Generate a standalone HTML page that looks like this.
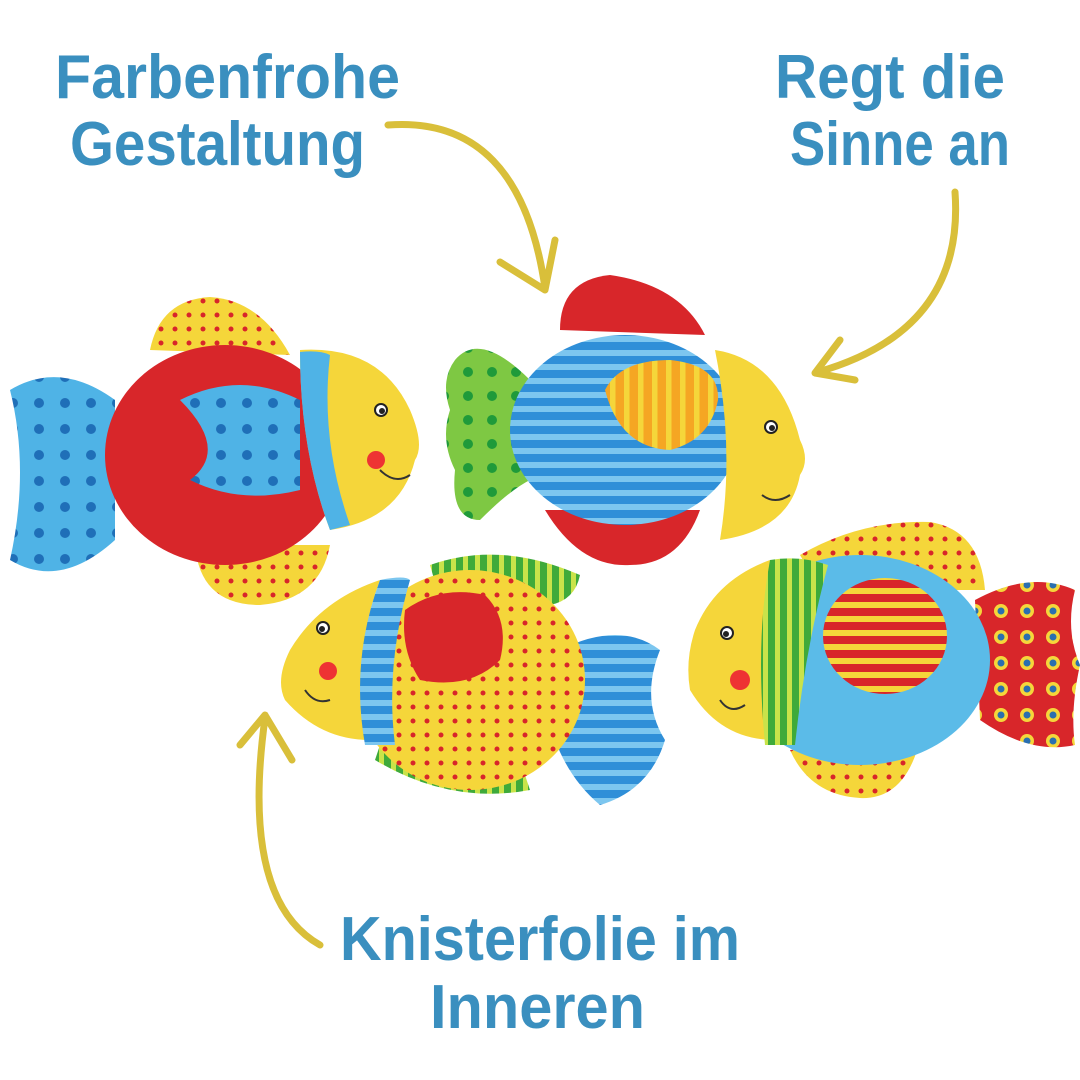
<!DOCTYPE html>
<html><head><meta charset="utf-8"><style>html,body{margin:0;padding:0;background:#fff}svg{display:block}</style></head><body>
<svg width="1080" height="1080" viewBox="0 0 1080 1080" xmlns="http://www.w3.org/2000/svg">
<defs>
<pattern id="dotY" width="14" height="14" patternUnits="userSpaceOnUse"><rect width="14" height="14" fill="#f5d63a"/><circle cx="7" cy="7" r="2.5" fill="#d8262a"/></pattern>
<pattern id="dotB" width="26" height="26" patternUnits="userSpaceOnUse"><rect width="26" height="26" fill="#4fb3e6"/><circle cx="13" cy="13" r="5" fill="#1f6fb8"/></pattern>
<pattern id="dotG" width="24" height="24" patternUnits="userSpaceOnUse"><rect width="24" height="24" fill="#7ec843"/><circle cx="12" cy="12" r="5" fill="#1f9a3a"/></pattern>
<pattern id="dotR" width="26" height="26" patternUnits="userSpaceOnUse"><rect width="26" height="26" fill="#d8262a"/><circle cx="13" cy="13" r="7" fill="#f5d63a"/><circle cx="13" cy="13" r="3.5" fill="#2a6fb0"/></pattern>
<pattern id="strB" width="14" height="14" patternUnits="userSpaceOnUse"><rect width="14" height="14" fill="#2f8fd8"/><rect width="14" height="6" fill="#7cc6ef"/></pattern>
<pattern id="strG" width="12" height="12" patternUnits="userSpaceOnUse" patternTransform="rotate(90)"><rect width="12" height="12" fill="#3faa3a"/><rect width="12" height="5" fill="#c9e34a"/></pattern>
<pattern id="strO" width="14" height="14" patternUnits="userSpaceOnUse" patternTransform="rotate(90)"><rect width="14" height="14" fill="#f5a623"/><rect width="14" height="6" fill="#f5d63a"/></pattern>
<pattern id="strR" width="14" height="14" patternUnits="userSpaceOnUse"><rect width="14" height="14" fill="#d8262a"/><rect width="14" height="6" fill="#f5d63a"/></pattern>
</defs>
<rect width="1080" height="1080" fill="#fff"/>

<!-- Fish 1 -->
<path d="M115 400 Q60 360 10 390 Q30 470 10 560 Q60 590 115 540 Z" fill="url(#dotB)"/>
<path d="M150 350 Q160 300 210 297 Q260 300 290 355 Z" fill="url(#dotY)"/>
<path d="M195 545 L330 545 Q320 600 260 605 Q200 605 195 545 Z" fill="url(#dotY)"/>
<ellipse cx="225" cy="455" rx="120" ry="110" fill="#d8262a"/>
<path d="M300 350 Q380 345 410 410 Q425 445 415 460 Q400 520 330 530 Q300 450 300 350 Z" fill="#f5d63a"/>
<path d="M300 352 Q320 350 330 355 Q320 440 350 525 L330 530 Q300 450 300 352 Z" fill="#4fb3e6"/>
<path d="M180 400 Q240 370 300 400 L300 490 Q240 505 190 480 Q230 450 180 400 Z" fill="url(#dotB)"/>
<circle cx="381" cy="410" r="6" fill="#fff" stroke="#222" stroke-width="2"/><circle cx="382" cy="411" r="3" fill="#222"/>
<circle cx="376" cy="460" r="9" fill="#e33"/>
<path d="M380 470 Q395 485 410 475" stroke="#333" stroke-width="2" fill="none"/>

<!-- Fish 2 -->
<path d="M560 330 Q560 280 610 275 Q680 285 705 335 Z" fill="#d8262a"/>
<path d="M545 510 L700 510 Q680 565 630 565 Q580 568 545 510 Z" fill="#d8262a"/>
<path d="M530 380 Q480 330 455 360 Q440 380 450 410 Q440 440 455 470 Q450 520 480 520 Q510 490 530 480 Z" fill="url(#dotG)"/>
<ellipse cx="625" cy="430" rx="115" ry="95" fill="url(#strB)"/>
<path d="M715 350 Q780 360 800 440 Q810 460 800 475 Q790 530 720 540 Q735 450 715 350 Z" fill="#f5d63a"/>
<path d="M605 390 Q620 360 670 360 Q720 365 718 400 Q710 440 670 450 Q620 448 605 390 Z" fill="url(#strO)"/>
<circle cx="771" cy="427" r="6" fill="#fff" stroke="#222" stroke-width="2"/><circle cx="772" cy="428" r="3" fill="#222"/>
<path d="M762 495 Q775 505 790 495" stroke="#333" stroke-width="2" fill="none"/>

<!-- Fish 3 -->
<path d="M560 650 Q620 620 660 650 Q640 700 665 740 Q650 790 600 805 Q570 780 555 740 Z" fill="url(#strB)"/>
<path d="M430 565 Q500 540 580 575 Q575 600 550 605 L440 600 Z" fill="url(#strG)"/>
<path d="M375 760 Q450 805 530 790 L520 760 L380 745 Z" fill="url(#strG)"/>
<ellipse cx="470" cy="680" rx="115" ry="110" fill="url(#dotY)"/>
<path d="M380 580 Q320 600 290 650 Q275 680 285 700 Q320 740 370 740 Q350 660 380 580 Z" fill="#f5d63a"/>
<path d="M380 580 Q405 575 410 580 Q385 665 395 745 L365 745 Q350 660 380 580 Z" fill="url(#strB)"/>
<path d="M405 610 Q440 585 485 595 Q510 620 500 660 Q470 690 420 680 Q400 650 405 610 Z" fill="#d8262a"/>
<circle cx="323" cy="628" r="6" fill="#fff" stroke="#222" stroke-width="2"/><circle cx="322" cy="629" r="3" fill="#222"/>
<circle cx="328" cy="671" r="9" fill="#e33"/>
<path d="M305 690 Q315 705 330 700" stroke="#333" stroke-width="2" fill="none"/>

<!-- Fish 4 -->
<path d="M975 600 Q1030 570 1075 590 Q1065 630 1080 665 Q1070 710 1075 745 Q1030 755 980 720 Z" fill="url(#dotR)"/>
<path d="M800 555 Q860 520 930 522 Q980 530 985 590 L820 590 Z" fill="url(#dotY)"/>
<path d="M790 750 L920 740 Q905 800 860 798 Q810 795 790 750 Z" fill="url(#dotY)"/>
<ellipse cx="860" cy="660" rx="130" ry="105" fill="#5bbbe8"/>
<path d="M770 560 Q715 580 695 630 Q685 660 690 690 Q720 740 775 740 Q760 640 770 560 Z" fill="#f5d63a"/>
<path d="M770 560 Q800 555 828 565 Q805 650 795 745 L765 745 Q755 640 770 560 Z" fill="url(#strG)"/>
<ellipse cx="885" cy="636" rx="62" ry="58" fill="url(#strR)"/>
<circle cx="727" cy="633" r="6" fill="#fff" stroke="#222" stroke-width="2"/><circle cx="726" cy="634" r="3" fill="#222"/>
<circle cx="740" cy="680" r="10" fill="#e33"/>
<path d="M720 700 Q730 715 745 705" stroke="#333" stroke-width="2" fill="none"/>

<!-- Arrows -->
<g stroke="#d9bf3a" stroke-width="7" fill="none" stroke-linecap="round" stroke-linejoin="round">
<path d="M388 125 Q520 115 545 288"/>
<path d="M500 262 L545 290 L555 240"/>
<path d="M955 192 Q965 330 818 372"/>
<path d="M840 340 L815 373 L855 380"/>
<path d="M320 945 Q240 900 265 718"/>
<path d="M240 745 L265 715 L292 760"/>
</g>

<!-- Text -->
<g font-family="Liberation Sans, sans-serif" font-weight="bold" fill="#3a8fbf" font-size="62">
<text x="55" y="98" textLength="345" lengthAdjust="spacingAndGlyphs">Farbenfrohe</text>
<text x="70" y="165" textLength="295" lengthAdjust="spacingAndGlyphs">Gestaltung</text>
<text x="775" y="98" textLength="230" lengthAdjust="spacingAndGlyphs">Regt die</text>
<text x="790" y="165" textLength="220" lengthAdjust="spacingAndGlyphs">Sinne an</text>
<text x="340" y="960" textLength="400" lengthAdjust="spacingAndGlyphs">Knisterfolie im</text>
<text x="430" y="1028" textLength="215" lengthAdjust="spacingAndGlyphs">Inneren</text>
</g>
</svg>
</body></html>
